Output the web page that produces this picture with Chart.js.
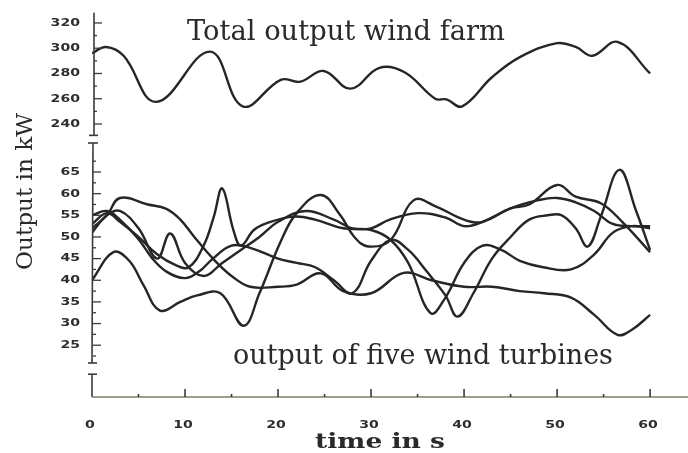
<!DOCTYPE html>
<html><head><meta charset="utf-8">
<script src="https://cdn.jsdelivr.net/npm/chart.js@4.4.0/dist/chart.umd.min.js"></script>
<style>html,body{margin:0;padding:0;background:#fff}#wrap{width:688px;height:453px}</style>
</head><body><div id="wrap"><canvas id="c" width="688" height="453"></canvas></div>
<script>
// ---- data ----
const totalTime   = [0, 1.5, 3.4, 6.9, 12.7, 16.2, 20.3, 22.4, 24.9, 27.8, 30.9, 33.6, 36.9, 38.1, 39.8, 43, 46, 50, 52, 53.8, 56.5, 60];
const totalOutput = [296, 301, 294, 257.5, 297.3, 254, 275, 273.5, 282, 268, 284.5, 281, 260, 259.5, 254, 277, 293, 304, 301, 294, 305, 280];

const t1 = [0,1.6,3,6,8,9.5,11,13,15,17,20,22,24.6,27,30,33.5,36.5,40,43,46,48.6,51.5,54,56.5,58,60];
const v1 = [52,55,59,57.5,56.5,54,50,45,41,38.5,38.5,39,41.6,37.5,37,41.7,40,38.5,38.5,37.5,37,36,32,27.4,28.5,32];
const t2 = [0,2.3,4,5.5,7.3,9.5,11.3,13.8,16.3,18,20.3,22,24.6,26.7,28.2,29.7,32.1,34.6,37,40,42,45,47,50,52,54.7,57,60];
const v2 = [40,46.5,44.5,39,33,35,36.5,37,29.5,37,49,55.5,59.7,55,50,47.8,49.3,58.5,57,54,53.5,56.6,57.5,62,59.3,57.8,53.5,46.5];
const t3 = [0,1.6,3,5,7,9,10.4,12,13.1,14,15.2,16,17.4,18.8,21.7,24,27,30,32.1,34,36.4,38,40,42,44,46,48.5,51.5,54,56,58,60];
const v3 = [53,55.5,53.5,50,46,43.5,43,48,54.7,61.2,51.6,48,51.6,53.2,54.7,54,52,51.6,49.3,44,32.4,36,44,48,47,44.5,43,42.5,46,51,52.5,52];
const t4 = [0,1.6,3,5,6.5,8,10,11.5,13,15,17,20,22,24,26,28,30,32.1,34,36,38,39.3,41,43,45,47,49,50.5,52,53.3,54.7,56.7,58.5,60];
const v4 = [55,56,54,49.5,45,42,40.5,42,45,48,47.5,45,44,43,40,37,44.5,49.3,47,42,36.5,31.6,37,45,50,54,55,55,52,47.8,54.7,65.5,56,47];
const t5 = [0,1.6,3,5,7,8.4,10,12,14,16,18,20,23,26,28,30,32,35,38,40,42,45,48,50,52,54,56,58,60];
const v5 = [51,55,56,52,45,50.8,44,41,44,47,50,53.5,56,54,52,52,54,55.5,54.5,52.5,53.5,56.6,58.5,59,58,56,53,52.5,52.5];

const xTicks = [0,10,20,30,40,50,60];
const xTickLabels = ['0','10','20','30','40','50','60'];
const upperTicks = [240,260,280,300,320];
const lowerTicks = [25,30,35,40,45,50,55,60,65];

// ---- chart ----
const INK = '#262626';
function pts(t, v){ return t.map((x,i)=>({x:x, y:v[i]})); }
function line(t, v, axis){
  return {data: pts(t,v), yAxisID: axis, borderColor: INK, borderWidth: 2.4,
          pointRadius: 0, tension: 0.4, fill: false};
}

function fitText(ctx, text, family, weight, targetW){
  ctx.font = weight + ' 100px ' + family;
  const w = ctx.measureText(text).width;
  const size = 100 * targetW / w;
  ctx.font = weight + ' ' + size.toFixed(2) + 'px ' + family;
}
function scaledText(ctx, text, font, targetW, cx, by){
  ctx.save();
  ctx.font = font;
  const w = ctx.measureText(text).width;
  ctx.translate(cx, by);
  ctx.scale(targetW / w, 1);
  ctx.textAlign = 'center';
  ctx.fillText(text, 0, 0);
  ctx.restore();
}

const axesPlugin = {
  id: 'axesPlugin',
  afterDraw(chart){
    const ctx = chart.ctx;
    const xs = chart.scales.x, yl = chart.scales.yLow, yh = chart.scales.yHigh;
    const x0 = xs.getPixelForValue(0);
    ctx.save();
    ctx.strokeStyle = '#3b3b36';
    ctx.lineWidth = 1.6;
    // upper vertical axis
    const uTop = yh.getPixelForValue(328), uBot = yh.getPixelForValue(231);
    ctx.beginPath(); ctx.moveTo(x0+2, uTop); ctx.lineTo(x0+2, uBot); ctx.stroke();
    ctx.beginPath(); ctx.moveTo(x0-3, uBot); ctx.lineTo(x0+6, uBot); ctx.stroke();
    // lower vertical axis
    const lTop = yl.getPixelForValue(71.7), lBot = yl.getPixelForValue(20.9);
    ctx.beginPath(); ctx.moveTo(x0+1, lTop); ctx.lineTo(x0, lBot); ctx.stroke();
    ctx.beginPath(); ctx.moveTo(x0-4, lTop); ctx.lineTo(x0+6, lTop); ctx.stroke();
    ctx.beginPath(); ctx.moveTo(x0-4, lBot); ctx.lineTo(x0+5, lBot); ctx.stroke();
    // bottom stub
    const bTop = yl.getPixelForValue(18.3), bBot = yl.getPixelForValue(13.04);
    ctx.beginPath(); ctx.moveTo(x0-4, bTop); ctx.lineTo(x0+5, bTop); ctx.stroke();
    ctx.beginPath(); ctx.moveTo(x0, bTop); ctx.lineTo(x0, bBot); ctx.stroke();
    // x axis
    ctx.strokeStyle = '#807c66';
    ctx.beginPath(); ctx.moveTo(x0, bBot); ctx.lineTo(chart.width, bBot); ctx.stroke();
    ctx.strokeStyle = '#3b3b36';
    for (let v = 5; v <= 60; v += 5){
      const px = xs.getPixelForValue(v);
      const len = (v % 10 === 0) ? 8 : 3;
      ctx.beginPath(); ctx.moveTo(px, bBot); ctx.lineTo(px, bBot-len); ctx.stroke();
    }
    // y ticks
    ctx.lineWidth = 1.3;
    for (let v = 240; v <= 320; v += 10){
      const py = yh.getPixelForValue(v);
      const len = (v % 20 === 0) ? 8 : 3;
      ctx.beginPath(); ctx.moveTo(x0+2, py); ctx.lineTo(x0+2+len, py); ctx.stroke();
    }
    for (let v = 22.5; v <= 67.5; v += 2.5){
      const py = yl.getPixelForValue(v);
      const len = (v % 5 === 0) ? 8 : 3;
      ctx.beginPath(); ctx.moveTo(x0+1, py); ctx.lineTo(x0+1+len, py); ctx.stroke();
    }
    // tick labels
    ctx.fillStyle = '#2e2e2e';
    ctx.font = 'bold 11px "DejaVu Sans"';
    ctx.textBaseline = 'middle';
    function wideText(txt, px, py, align){
      ctx.save();
      ctx.translate(px, py);
      ctx.scale(1.28, 1);
      ctx.textAlign = align;
      ctx.fillText(txt, 0, 0);
      ctx.restore();
    }
    upperTicks.forEach(v => wideText(String(v), 80, yh.getPixelForValue(v), 'right'));
    lowerTicks.forEach(v => wideText(String(v), 80, yl.getPixelForValue(v), 'right'));
    xTicks.forEach((v,i) => wideText(xTickLabels[i], xs.getPixelForValue(v)-2, 425, 'center'));
    // titles
    ctx.fillStyle = '#2a2a2a';
    ctx.textBaseline = 'alphabetic';
    ctx.textAlign = 'center';
    fitText(ctx, 'Total output wind farm', '"DejaVu Serif"', 'normal', 318);
    ctx.fillText('Total output wind farm', 346, 40);
    fitText(ctx, 'output of five wind turbines', '"DejaVu Serif"', 'normal', 380);
    ctx.fillText('output of five wind turbines', 423, 364);
    scaledText(ctx, 'time in s', 'bold 20px "DejaVu Serif"', 130, 380, 448);
    ctx.save();
    ctx.translate(32, 191.5);
    ctx.rotate(-Math.PI/2);
    fitText(ctx, 'Output in kW', '"DejaVu Serif"', 'normal', 157);
    ctx.fillText('Output in kW', 0, 0);
    ctx.restore();
    ctx.restore();
  }
};

new Chart(document.getElementById('c'), {
  type: 'line',
  data: { datasets: [
    line(totalTime, totalOutput, 'yHigh'),
    line(t1, v1, 'yLow'), line(t2, v2, 'yLow'), line(t3, v3, 'yLow'),
    line(t4, v4, 'yLow'), line(t5, v5, 'yLow')
  ]},
  options: {
    responsive: false, animation: false, devicePixelRatio: 1,
    layout: { padding: { left: 92, top: 13, right: 10, bottom: 56 } },
    plugins: { legend: { display: false }, tooltip: { enabled: false } },
    scales: {
      x: { type: 'linear', min: 0, max: 63, display: false },
      yLow: { type: 'linear', position: 'left', min: 13.04, max: 101.72, display: false },
      yHigh: { type: 'linear', position: 'left', min: 23.8, max: 327.9, display: false }
    }
  },
  plugins: [axesPlugin]
});
</script></body></html>
